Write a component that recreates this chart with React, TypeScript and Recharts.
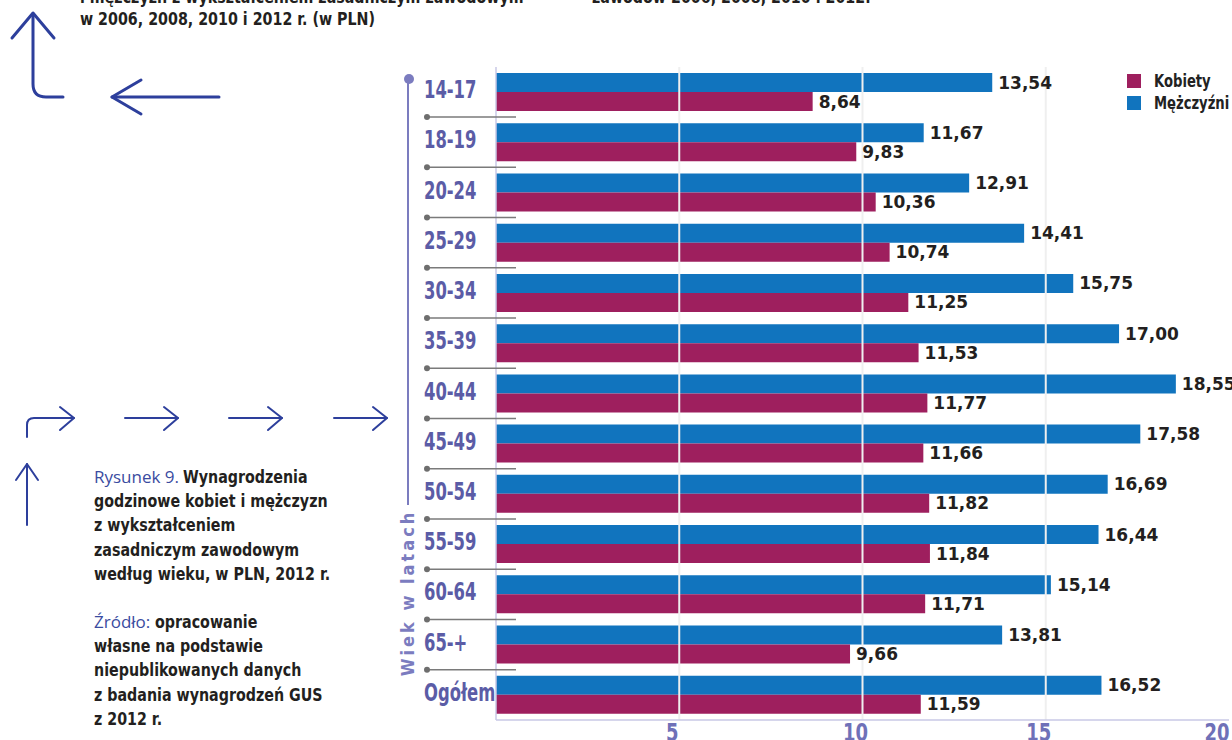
import React from 'react';
import {
  BarChart,
  Bar,
  XAxis,
  YAxis,
  LabelList,
  ReferenceLine,
  Legend,
} from 'recharts';

const ageGroups = ['14-17', '18-19', '20-24', '25-29', '30-34', '35-39', '40-44', '45-49', '50-54', '55-59', '60-64', '65-+', 'Ogółem'];
const women = [8.64, 9.83, 10.36, 10.74, 11.25, 11.53, 11.77, 11.66, 11.82, 11.84, 11.71, 9.66, 11.59];
const men = [13.54, 11.67, 12.91, 14.41, 15.75, 17.0, 18.55, 17.58, 16.69, 16.44, 15.14, 13.81, 16.52];
const xTicks = [5, 10, 15, 20];
const gridLines = [5, 10, 15];

const data = ageGroups.map((age, i) => ({ age, women: women[i], men: men[i] }));

const NARROW = "'DejaVu Sans Condensed', 'DejaVu Sans', sans-serif";
const BLUE = '#1174be';
const MAGENTA = '#9e1f5e';
const LAVENDER = '#5b5ca6';
const ARROW = '#2d3f9c';

const fmt = (v: any) => Number(v).toFixed(2).replace('.', ',');

// category labels + the small separators between age groups
const AgeTick = (props: any) => {
  const { y, payload, index } = props;
  const last = index === ageGroups.length - 1;
  return (
    <g>
      <text
        transform={`translate(424, ${y + 6}) scale(0.76, 1)`}
        fill={LAVENDER}
        fontFamily={NARROW}
        fontWeight="bold"
        fontSize={24}
      >
        {payload.value}
      </text>
      {!last && (
        <g>
          <line x1={427} x2={516} y1={y + 25} y2={y + 25} stroke="#7a7a7a" strokeWidth={1.5} />
          <circle cx={427} cy={y + 25} r={3} fill="#6e6e6e" />
        </g>
      )}
    </g>
  );
};

const ValueTick = (props: any) => {
  const { x, payload } = props;
  return (
    <text
      transform={`translate(${x - 7}, 741) scale(0.8, 1)`}
      textAnchor="middle"
      fill="#6f71b8"
      fontFamily={NARROW}
      fontWeight="bold"
      fontSize={25}
    >
      {payload.value}
    </text>
  );
};

const squeeze = (k: number) => ({
  display: 'inline-block',
  transform: `scaleX(${k})`,
  transformOrigin: 'left center',
  whiteSpace: 'nowrap' as const,
});

const LegendBox = () => (
  <div style={{ fontFamily: NARROW, fontWeight: 'bold', fontSize: 17, color: '#222' }}>
    {[
      { name: 'Kobiety', color: MAGENTA },
      { name: 'Mężczyźni', color: BLUE },
    ].map((it) => (
      <div key={it.name} style={{ display: 'flex', alignItems: 'center', height: 22 }}>
        <span style={{ width: 14, height: 14, background: it.color, display: 'inline-block', marginRight: 13, flex: 'none' }} />
        <span style={squeeze(0.86)}>{it.name}</span>
      </div>
    ))}
  </div>
);

const boldDark = { color: '#231f20', fontWeight: 'bold' as const, fontFamily: NARROW, ...squeeze(0.88) };
const blueReg = { color: '#3a4ba0', fontWeight: 'normal' as const, fontFamily: "'Open Sans', sans-serif", fontSize: 17 };

const Line = ({ blue, text }: { blue?: string; text: string }) => (
  <div style={{ whiteSpace: 'nowrap' }}>
    {blue && <span style={blueReg}>{blue} </span>}
    <span style={boldDark}>{text}</span>
  </div>
);

export default function App() {
  return (
    <div style={{ position: 'absolute', left: 0, top: 0, width: 1232, height: 740, overflow: 'hidden', background: '#fff' }}>
      {/* decoration */}
      <svg width={1232} height={740} style={{ position: 'absolute', left: 0, top: 0 }}>
        <g fill="none" stroke={ARROW} strokeWidth={3} strokeLinecap="round" strokeLinejoin="round">
          <path d="M33 14 L33 84 Q33 97 46 97 L63 97" />
          <path d="M12 38 L33 13 L54 38" />
          <path d="M219 97 L112 97" />
          <path d="M141 80 L112 97 L141 114" />
        </g>
        <g fill="none" stroke={ARROW} strokeWidth={2} strokeLinecap="round" strokeLinejoin="round">
          <path d="M27 437 L27 425 Q27 418 34 418 L74 418" />
          <path d="M60 407 L74 418 L60 430" />
          <path d="M125 418 L178 418" />
          <path d="M164 407 L178 418 L164 430" />
          <path d="M229 418 L282 418" />
          <path d="M268 407 L282 418 L268 430" />
          <path d="M334 418 L387 418" />
          <path d="M373 407 L387 418 L373 430" />
          <path d="M27 525 L27 464" />
          <path d="M16 480 L27 464 L38 480" />
        </g>
        <line x1={408} x2={408} y1={80} y2={505} stroke="#7b7cbf" strokeWidth={2} />
        <circle cx={409} cy={79} r={5} fill="#7b7cbf" />
        <text
          x={407}
          y={593}
          transform="rotate(-90 407 593)"
          textAnchor="middle"
          dominantBaseline="central"
          fill="#7b7cbf"
          fontFamily={NARROW}
          fontWeight="bold"
          fontSize={18}
          letterSpacing={3}
        >
          Wiek w latach
        </text>
      </svg>

      {/* header text (cut at the top, as in the page it comes from) */}
      <div style={{ position: 'absolute', left: 80, top: -14, fontSize: 18, lineHeight: '22px' }}>
        <Line text="i mężczyzn z wykształceniem zasadniczym zawodowym" />
        <Line text="w 2006, 2008, 2010 i 2012 r. (w PLN)" />
      </div>
      <div style={{ position: 'absolute', left: 592, top: -14, fontSize: 18, lineHeight: '22px' }}>
        <Line text="zawodów 2006, 2008, 2010 i 2012." />
      </div>

      {/* caption */}
      <div style={{ position: 'absolute', left: 94, top: 465, fontSize: 18, lineHeight: '24.2px' }}>
        <Line blue="Rysunek 9." text="Wynagrodzenia" />
        <Line text="godzinowe kobiet i mężczyzn" />
        <Line text="z wykształceniem" />
        <Line text="zasadniczym zawodowym" />
        <Line text="według wieku, w PLN, 2012 r." />
        <div style={{ height: 24 }} />
        <Line blue="Źródło:" text="opracowanie" />
        <Line text="własne na podstawie" />
        <Line text="niepublikowanych danych" />
        <Line text="z badania wynagrodzeń GUS" />
        <Line text="z 2012 r." />
      </div>

      <div style={{ position: 'absolute', left: 0, top: 0 }}>
        <BarChart
          width={1232}
          height={740}
          data={data}
          layout="vertical"
          barSize={19}
          barGap={0}
          margin={{ top: 67, right: 3, bottom: 0, left: 0 }}
        >
          <XAxis
            type="number"
            domain={[0, 20]}
            ticks={xTicks}
            height={20}
            axisLine={{ stroke: '#c9c9e6', strokeWidth: 1.5 }}
            tickLine={false}
            tick={<ValueTick />}
          />
          <YAxis
            type="category"
            dataKey="age"
            width={496}
            axisLine={{ stroke: '#c9c9e6', strokeWidth: 1.5 }}
            tickLine={false}
            tick={<AgeTick />}
            interval={0}
          />
          <Legend
            layout="horizontal"
            verticalAlign="middle"
            align="center"
            content={<LegendBox />}
            wrapperStyle={{ position: 'absolute', top: 70, left: 1127, width: 110 }}
          />
          <Bar dataKey="men" name="Mężczyźni" fill={BLUE} isAnimationActive={false}>
            <LabelList
              dataKey="men"
              position="right"
              offset={6}
              formatter={fmt}
              fill="#231f20"
              fontFamily="'DejaVu Sans', sans-serif"
              fontWeight="bold"
              fontSize={17}
            />
          </Bar>
          <Bar dataKey="women" name="Kobiety" fill={MAGENTA} isAnimationActive={false}>
            <LabelList
              dataKey="women"
              position="right"
              offset={6}
              formatter={fmt}
              fill="#231f20"
              fontFamily="'DejaVu Sans', sans-serif"
              fontWeight="bold"
              fontSize={17}
            />
          </Bar>
          {gridLines.map((g) => (
            <ReferenceLine key={g} x={g} stroke="#efefef" strokeWidth={2} />
          ))}
        </BarChart>
      </div>
    </div>
  );
}
